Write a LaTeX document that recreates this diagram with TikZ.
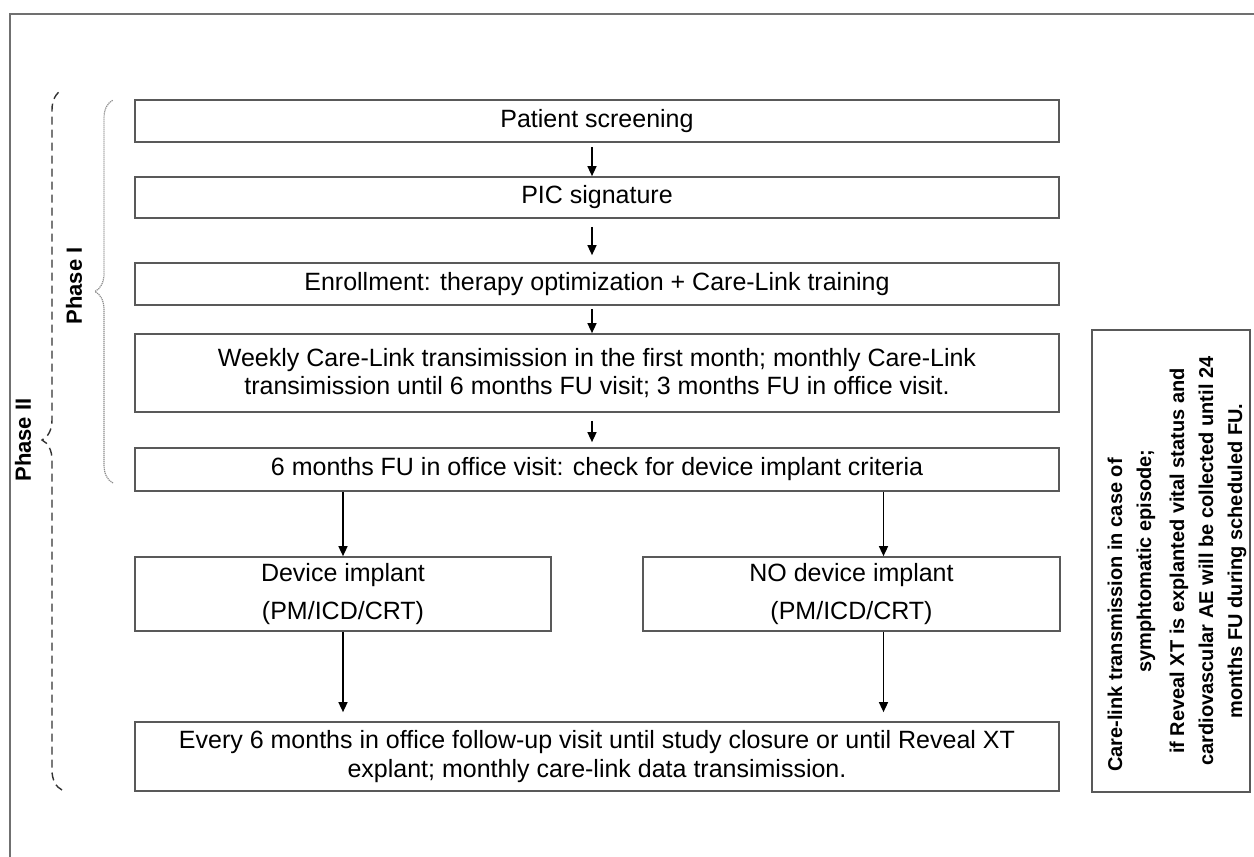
\documentclass[tikz,border=0pt]{standalone}
\usepackage{fontspec}
\setmainfont{Liberation Sans}
\usetikzlibrary{arrows.meta,decorations.pathreplacing}
\definecolor{boxgray}{HTML}{595959}
\definecolor{framegray}{HTML}{707070}
\definecolor{bracegray}{HTML}{8C8C8C}
\tikzset{
	frameline/.style={draw=framegray,line width=1pt},%
	flowbox/.style={draw=boxgray,line width=0.85pt,inner sep=0pt,align=center,minimum width=\mainwidth,font=\fontsize{12.5}{14.5}\selectfont},%
	sidebox/.style={draw=boxgray,line width=0.85pt,inner sep=0pt,minimum width=79pt,minimum height=231pt},%
	sidetext/.style={inner sep=0pt,align=center,rotate=90,font=\bfseries\fontsize{10}{14.5}\selectfont},%
	flowarrow/.style={-{Triangle[length=5pt,width=4.5pt]},line width=0.75pt},%
	phaselabel/.style={rotate=90,font=\bfseries\fontsize{11}{13}\selectfont},%
	phaseonebrace/.style={bracegray,line width=0.6pt,dash pattern=on 0.6pt off 0.4pt,decorate,decoration={brace,amplitude=9pt}},%
	phasetwobrace/.style={black!80,line width=0.7pt,dash pattern=on 4pt off 2.5pt,decorate,decoration={brace,amplitude=10pt}},%
}
\def\mainwidth{462pt}
\def\noshift{16pt}
\def\topshift{-2.5pt}

\begin{document}
\begin{tikzpicture}[x=0.5pt,y=-0.5pt]
		\useasboundingbox (0,0) rectangle (1254,857);
		\draw[frameline] (9.5,857) |- (1254,13.5);
		\node[flowbox,minimum height=21pt] (screen) at (597,121) {Patient screening};
		\node[flowbox,minimum height=20.5pt] (pic) at (597,197.5) {PIC signature};
		\node[flowbox,minimum height=21pt] (enrol) at (597,284) {Enrollment: therapy optimization + Care-Link training};
		\node[flowbox,minimum height=39pt,font=\fontsize{12.5}{14}\selectfont] (weekly) at (597,373) {Weekly Care-Link transimission in the first month; monthly Care-Link\\transimission until 6 months FU visit; 3 months FU in office visit.};
		\node[flowbox,minimum height=21.5pt] (check) at (597,469.5) {6 months FU in office visit: check for device implant criteria};
		\node[flowbox,minimum width=207.75pt,minimum height=37pt] (device) at (343,594) {Device implant\\[4.5pt](PM/ICD/CRT)};
		\node[flowbox,minimum width=208.5pt,minimum height=37pt] (noimp) at (851.5,594) {NO device implant\\[4.5pt](PM/ICD/CRT)};
		\node[flowbox,minimum height=34.5pt] (final) at (597,756.5) {Every 6 months in office follow-up visit until study closure or until Reveal XT\\explant; monthly care-link data transimission.};
		\node[sidebox] (note) at (1171,561) {};
		\node[sidetext] (notetext) at (1177,561) {Care-link transmission in case of\hspace*{54pt}\\symphtomatic episode;\hspace*{38pt}\\[2pt]if Reveal XT is explanted vital status and\\cardiovascular AE will be collected until 24\\months FU during scheduled FU.};
		\coordinate (notop) at ([xshift=\noshift]noimp.north);
		\coordinate (nobottom) at ([xshift=\noshift]noimp.south);
		\draw[flowarrow,shorten <=2pt] ([xshift=\topshift]screen.south) -- ([xshift=\topshift]pic.north);
		\draw[flowarrow,shorten <=4pt,shorten >=3.5pt] ([xshift=\topshift]pic.south) -- ([xshift=\topshift]enrol.north);
		\draw[flowarrow,shorten <=1.5pt] ([xshift=\topshift]enrol.south) -- ([xshift=\topshift]weekly.north);
		\draw[flowarrow,shorten <=4pt,shorten >=2.5pt] ([xshift=\topshift]weekly.south) -- ([xshift=\topshift]check.north);
		\draw[flowarrow] (check.south -| device.north) -- (device.north);
		\draw[flowarrow] (check.south -| notop) -- (notop);
		\draw[flowarrow,shorten >=4.5pt] (device.south) -- (final.north -| device.south);
		\draw[flowarrow,shorten >=4.5pt] (nobottom) -- (final.north -| nobottom);
		\draw[phaseonebrace] (113,483) -- (113,100);
		\draw[phasetwobrace] (62,790) -- (62,90);
		\node[phaselabel] (phaseone) at (74,286) {Phase I};
		\node[phaselabel] (phasetwo) at (23,440) {Phase II};
	\end{tikzpicture}
\end{document}
